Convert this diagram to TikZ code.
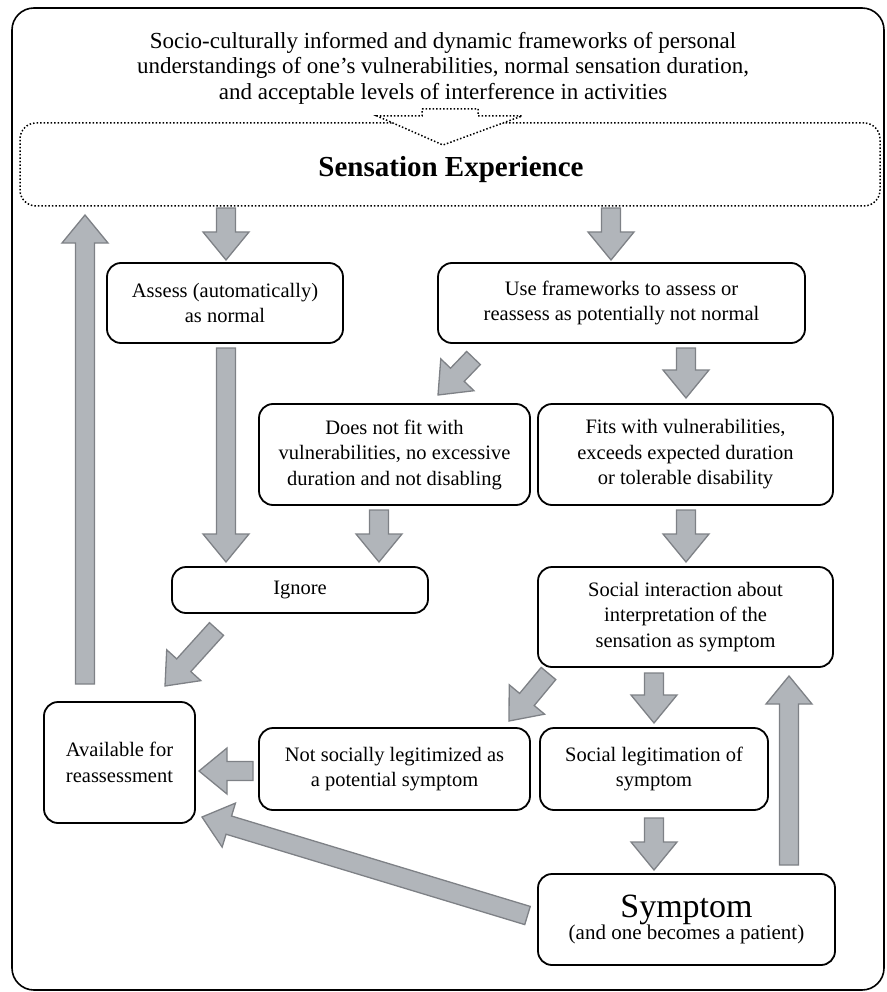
\documentclass[tikz,border=0pt]{standalone}
\usepackage{fontspec}
\setmainfont{Liberation Serif}
\usetikzlibrary{calc}
\definecolor{arrfill}{HTML}{B1B5BA}
\definecolor{arrline}{HTML}{7E8186}
\newcommand\blockarr[2]{%
  \coordinate (bah) at ($(#2)!28pt!(#1)$);
  \filldraw[blockarrow]
    ($(#1)!9.5pt!90:(#2)$) -- ($(bah)!9.5pt!90:(#2)$) -- ($(bah)!23pt!90:(#2)$) -- (#2)
    -- ($(bah)!23pt!-90:(#2)$) -- ($(bah)!9.5pt!-90:(#2)$) -- ($(#1)!9.5pt!-90:(#2)$) -- cycle;}
\begin{document}
\begin{tikzpicture}[x=1pt,y=-1pt,
  box/.style={draw, line width=1.8pt, rounded corners=14pt, align=center, inner sep=0pt,
    font=\fontsize{20.5}{25.5}\selectfont},
  blockarrow/.style={fill=arrfill, draw=arrline, line width=1.3pt, line join=miter}]
\useasboundingbox (0,0) rectangle (886,992);
\draw[line width=1.6pt, rounded corners=22pt] (12,8) rectangle (884,990);

\node[align=center, font=\fontsize{23}{25.5}\selectfont] (top) at (443,68)
  {Socio-culturally informed and dynamic frameworks of personal\\
   understandings of one’s vulnerabilities, normal sensation duration,\\
   and acceptable levels of interference in activities};

\node[draw, dotted, line width=1.5pt, rounded corners=16pt, minimum width=860pt,
  minimum height=83pt, inner sep=0pt] (sens) at (450,164.5) {};
\node[font=\bfseries\fontsize{29}{32}\selectfont] (senst) at (451,170) {Sensation Experience};
\filldraw[fill=white, draw=black, dotted, line width=1.5pt]
  (422,109) -- (478,109) -- (478,116) -- (522,116) -- (443,145) -- (377,116) -- (422,116) -- cycle;

\node[box, minimum width=236pt, minimum height=80pt] (assess) at (225,303)
  {Assess (automatically)\\as normal};
\node[box, minimum width=367pt, minimum height=80pt] (use) at (621.5,303)
  {Use frameworks to assess or\\reassess as potentially not normal};
\node[box, minimum width=271pt, minimum height=101pt] (notfit) at (394.5,454.5)
  {Does not fit with\\vulnerabilities, no excessive\\duration and not disabling};
\node[box, minimum width=295pt, minimum height=101pt] (fits) at (685.5,454.5)
  {Fits with vulnerabilities,\\exceeds expected duration\\or tolerable disability};
\node[box, minimum width=256pt, minimum height=46pt] (ignore) at (300,590) {Ignore};
\node[box, minimum width=295pt, minimum height=100pt] (social) at (685.5,617)
  {Social interaction about\\interpretation of the\\sensation as symptom};
\node[box, minimum width=151pt, minimum height=121pt] (avail) at (119.5,762.5)
  {Available for\\reassessment};
\node[box, minimum width=271pt, minimum height=82pt] (notsoc) at (394.5,769)
  {Not socially legitimized as\\a potential symptom};
\node[box, minimum width=228pt, minimum height=82pt] (soclegit) at (654,769)
  {Social legitimation of\\symptom};
\node[box, minimum width=297pt, minimum height=91pt] (symptom) at (686.5,919.5)
  {{\fontsize{34}{34}\selectfont Symptom}\\[-3pt]{\fontsize{21}{25}\selectfont(and one becomes a patient)}};

% arrow end points
\coordinate (a1s) at (226,208);   \coordinate (a1e) at (226,260);
\coordinate (a2s) at (611,208);   \coordinate (a2e) at (611,260);
\coordinate (a3s) at (85,684);    \coordinate (a3e) at (85,215);
\coordinate (a4s) at (226,348);   \coordinate (a4e) at (226,562);
\coordinate (a5s) at (473.5,358); \coordinate (a5e) at (438,395);
\coordinate (a6s) at (686,348);   \coordinate (a6e) at (686,398);
\coordinate (a7s) at (379,510);   \coordinate (a7e) at (379,562);
\coordinate (a8s) at (686,510);   \coordinate (a8e) at (686,562);
\coordinate (a9s) at (216.5,629); \coordinate (a9e) at (165,686);
\coordinate (a10s) at (253,771); \coordinate (a10e) at (199,771);
\coordinate (a11s) at (548.5,673.5); \coordinate (a11e) at (509,721);
\coordinate (a12s) at (654,673); \coordinate (a12e) at (654,723);
\coordinate (a13s) at (654,818); \coordinate (a13e) at (654,870);
\coordinate (a14s) at (789,865); \coordinate (a14e) at (789,676);
\coordinate (a15s) at (527.5,915.5); \coordinate (a15e) at (202,817);

\blockarr{a1s}{a1e}
\blockarr{a2s}{a2e}
\blockarr{a3s}{a3e}
\blockarr{a4s}{a4e}
\blockarr{a5s}{a5e}
\blockarr{a6s}{a6e}
\blockarr{a7s}{a7e}
\blockarr{a8s}{a8e}
\blockarr{a9s}{a9e}
\blockarr{a10s}{a10e}
\blockarr{a11s}{a11e}
\blockarr{a12s}{a12e}
\blockarr{a13s}{a13e}
\blockarr{a14s}{a14e}
\blockarr{a15s}{a15e}
\end{tikzpicture}
\end{document}
